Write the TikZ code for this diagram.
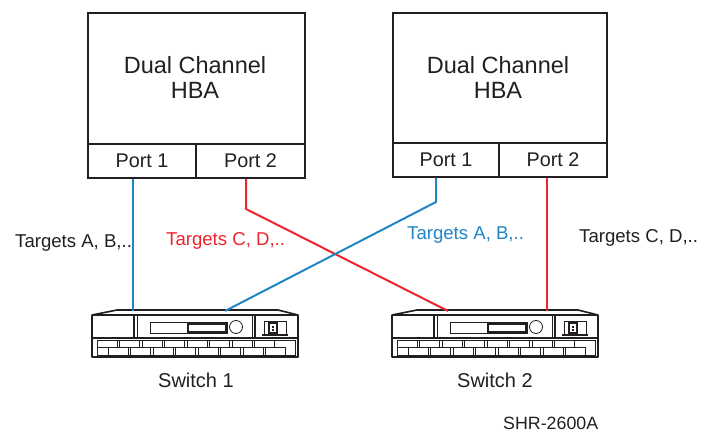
\documentclass[tikz,border=0pt]{standalone}
\usepackage{fontspec}
\setmainfont{Liberation Sans}
\definecolor{cblue}{RGB}{30,134,196}
\definecolor{cred}{RGB}{236,36,44}
\definecolor{ink}{RGB}{35,31,32}
\begin{document}
\begin{tikzpicture}[x=1pt,y=-1pt,
  hbabox/.style={draw=ink,line width=2pt,anchor=north west,inner sep=0pt},
  portbox/.style={draw=ink,line width=2pt,anchor=north west,inner sep=0pt,
    minimum height=34pt,font=\fontsize{19.8}{22}\selectfont,text=ink},
  bigtext/.style={font=\fontsize{23.5}{25}\selectfont,text=ink,align=center},
  label/.style={anchor=base west,inner sep=0pt,font=\fontsize{18.6}{20}\selectfont},
  swlabel/.style={anchor=base west,inner sep=0pt,font=\fontsize{20}{22}\selectfont,text=ink},
  blueline/.style={draw=cblue,line width=2pt},
  redline/.style={draw=cred,line width=2pt},
  swthick/.style={draw=ink,line width=1.6pt},
  swthin/.style={draw=ink,line width=0.8pt},
  fcswitch/.pic={
    % housing with sloped top
    \draw[swthick,line join=round] (92,357) -- (92,315) -- (117,310) -- (278,310) -- (298,315) -- (298,357) -- cycle;
    \draw[swthick] (92,315) -- (298,315);
    \draw[swthick] (92,338) -- (298,338);
    % front compartments
    \draw[swthick] (134,315) -- (134,338);
    \draw[swthin] (137,315) -- (137,338);
    \draw[swthin] (252,315) -- (252,338);
    \draw[swthick] (255,315) -- (255,338);
    % display slot and knob
    \draw[swthin] (150,322) rectangle (227,333);
    \draw[swthick] (188,324) rectangle (226,332);
    \draw[swthin] (236,327) circle (6.5);
    % power inlet
    \draw[swthin] (264,334) -- (264,321) -- (286,321) -- (286,334);
    \draw[swthick] (262,335) -- (288,335);
    \draw[swthick] (269,323) rectangle (277,333);
    \fill[ink] (272,326) rectangle (274,328);
    \fill[ink] (272,329) rectangle (274,331);
    % port bay
    \draw[swthin] (97,340) rectangle (295,355);
    \foreach \i in {0,...,7} {
      \draw[swthin] (97+22.5*\i,340) rectangle (117+22.5*\i,347.5);
      \draw[swthin] (108+22.5*\i,347.5) rectangle (128+22.5*\i,355);
    }
  }]
\useasboundingbox (0,0) rectangle (702,435);

% host bus adapters
\node[hbabox,minimum width=217pt,minimum height=165pt] (hba1) at (87,12) {};
\node[portbox,minimum width=108pt] (p11) at (87,143) {Port 1};
\node[portbox,minimum width=109pt] (p12) at (195,143) {Port 2};
\node[bigtext] (t1) at (195,77) {Dual Channel\\HBA};

\node[hbabox,minimum width=214pt,minimum height=164pt] (hba2) at (392,12) {};
\node[portbox,minimum width=106pt] (p21) at (392,142) {Port 1};
\node[portbox,minimum width=108pt] (p22) at (498,142) {Port 2};
\node[bigtext] (t2) at (498,77) {Dual Channel\\HBA};

% switches
\pic (sw1) at (0,0) {fcswitch};
\pic (sw2) at (300,0) {fcswitch};
\coordinate (s1a) at (133,311);
\coordinate (s1b) at (225,311);
\coordinate (s2a) at (448,311);
\coordinate (s2b) at (547,311);
\coordinate (k1) at (246,209);
\coordinate (k2) at (436,202);

% cabling
\draw[blueline] (s1a |- p11.south) -- (s1a);
\draw[redline,line join=round] (k1 |- p12.south) -- (k1) -- (s2a);
\draw[blueline,line join=round] (k2 |- p21.south) -- (k2) -- (s1b);
\draw[redline] (s2b |- p22.south) -- (s2b);

% labels
\node[label,text=ink] (la) at (15,248) {Targets A, B,..};
\node[label,text=cred] (lb) at (166,246) {Targets C, D,..};
\node[label,text=cblue] (lc) at (407,240) {Targets A, B,..};
\node[label,text=ink] (ld) at (579,243) {Targets C, D,..};
\node[swlabel] (n1) at (158,388) {Switch 1};
\node[swlabel] (n2) at (457,388) {Switch 2};
\node[label,text=ink,font=\fontsize{17.8}{20}\selectfont] (fig) at (503,430) {SHR-2600A};
\end{tikzpicture}
\end{document}
